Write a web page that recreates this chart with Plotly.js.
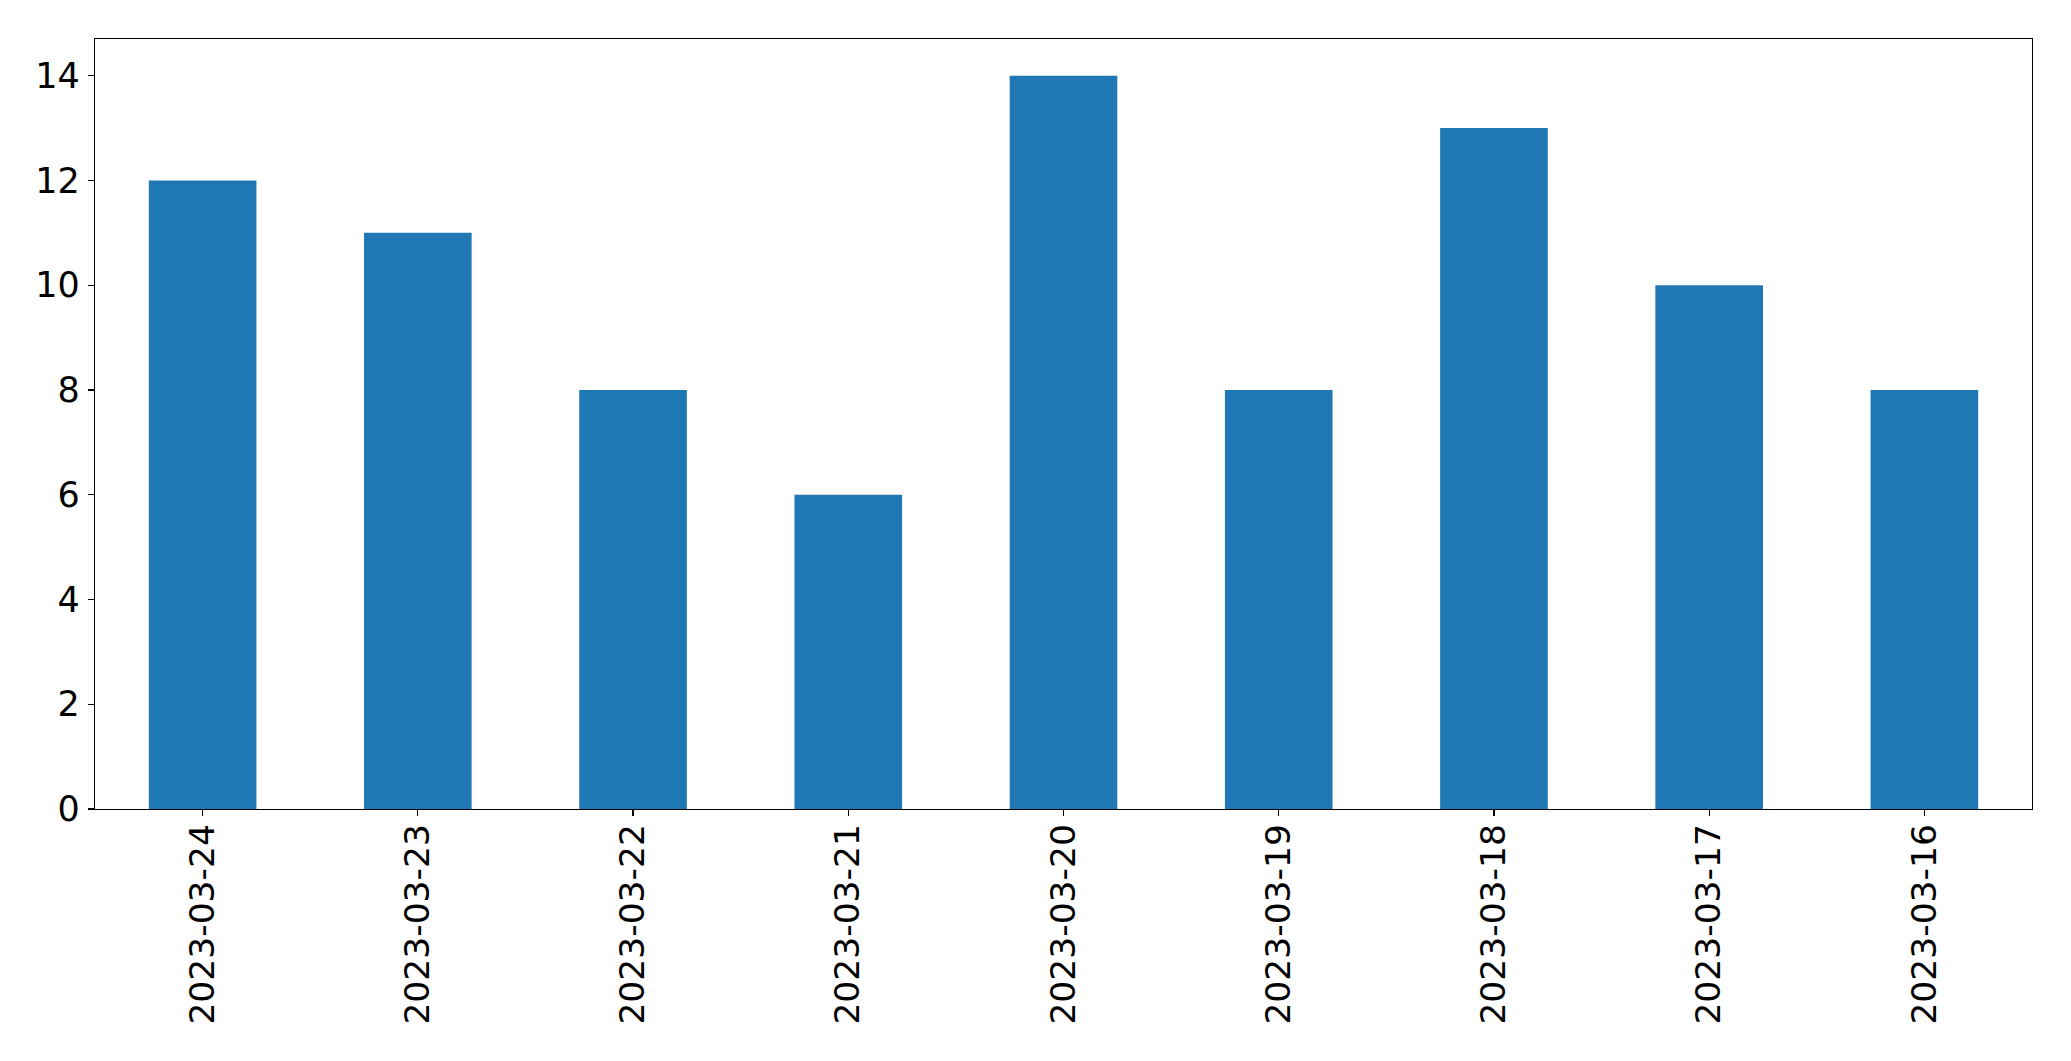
<!DOCTYPE html>
<html>
<head>
<meta charset="utf-8">
<script src="https://cdn.plot.ly/plotly-3.0.1.min.js"></script>
<style>html,body{margin:0;padding:0;background:#fff;}#chart{width:2071px;height:1061px;}</style>
</head>
<body>
<div id="chart"></div>
<script>
const dates = ["2023-03-24","2023-03-23","2023-03-22","2023-03-21","2023-03-20","2023-03-19","2023-03-18","2023-03-17","2023-03-16"];
const counts = [12, 11, 8, 6, 14, 8, 13, 10, 8];
const yTicks = [0, 2, 4, 6, 8, 10, 12, 14];

const trace = {
  type: 'bar',
  x: dates,
  y: counts,
  width: 0.5,
  marker: {color: '#1f77b4', line: {width: 0}},
  hoverinfo: 'x+y'
};

const layout = {
  width: 2071,
  height: 1061,
  margin: {l: 94.5, r: 38.7, t: 39.3, b: 251.7, pad: 0},
  paper_bgcolor: '#fff',
  plot_bgcolor: '#fff',
  showlegend: false,
  bargap: 0.5,
  font: {family: 'DejaVu Sans', size: 34.5, color: '#000'},
  xaxis: {
    type: 'category',
    range: [-0.5, 8.5],
    tickangle: -90,
    ticks: 'outside',
    ticklen: 6,
    tickwidth: 1.3,
    tickcolor: '#000',
    ticklabelstandoff: -6,
    showline: true,
    mirror: true,
    linecolor: '#000',
    linewidth: 1.3,
    showgrid: false,
    zeroline: false,
    tickfont: {family: 'DejaVu Sans', size: 34.5, color: '#000'}
  },
  yaxis: {
    range: [0, 14.7],
    tickvals: yTicks,
    ticktext: yTicks.map(String),
    ticks: 'outside',
    ticklen: 6,
    tickwidth: 1.3,
    tickcolor: '#000',
    ticklabelstandoff: 1,
    showline: true,
    mirror: true,
    linecolor: '#000',
    linewidth: 1.3,
    showgrid: false,
    zeroline: false,
    tickfont: {family: 'DejaVu Sans', size: 35, color: '#000'}
  }
};

Plotly.newPlot('chart', [trace], layout, {staticPlot: true, displayModeBar: false});
</script>
</body>
</html>
